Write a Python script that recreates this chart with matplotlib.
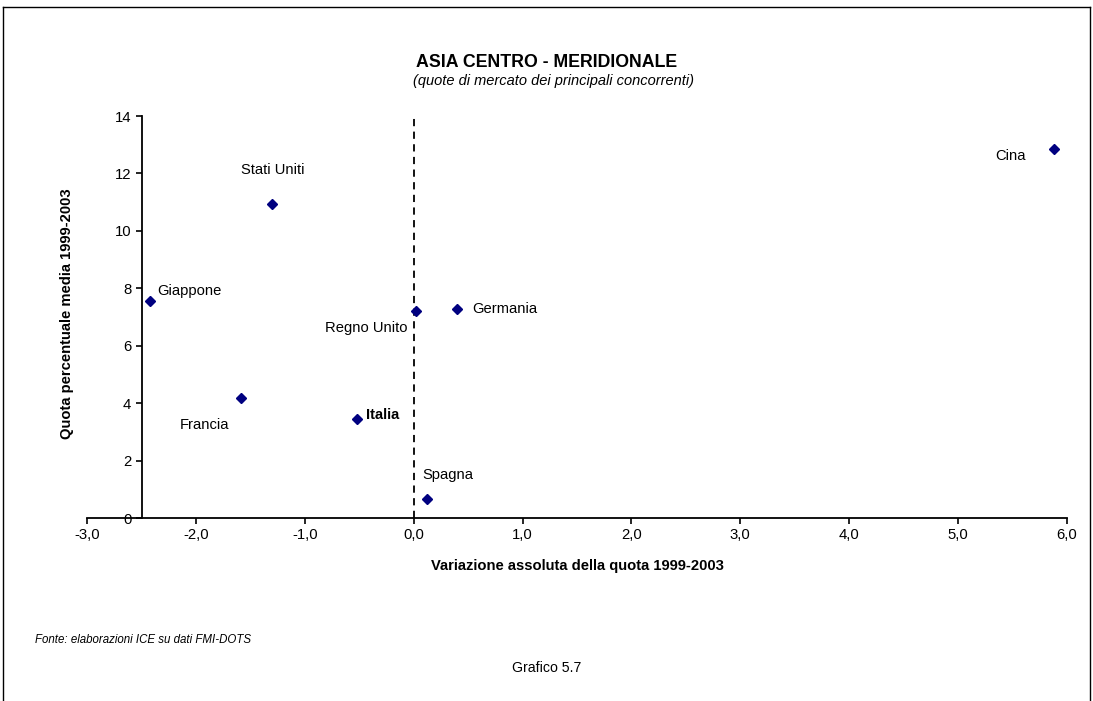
import numpy as np
import matplotlib.pyplot as plt
from matplotlib.lines import Line2D

plt.rcParams['font.family'] = ['Liberation Sans', 'DejaVu Sans']

# dati: variazione quota (x) e quota media (y)
paesi = ['Cina', 'Stati Uniti', 'Giappone', 'Francia', 'Regno Unito',
         'Germania', 'Italia', 'Spagna']
variazione = [5.88, -1.30, -2.42, -1.59, 0.02, 0.40, -0.52, 0.12]
quota = [12.85, 10.95, 7.57, 4.17, 7.22, 7.29, 3.45, 0.67]

# offset delle etichette in pixel (dx, dy, allineamento)
offs = {
    'Cina': (-43, -7, 'center'),
    'Stati Uniti': (0, 34, 'center'),
    'Giappone': (7, 10, 'left'),
    'Francia': (-36, -27, 'center'),
    'Regno Unito': (-50, -17, 'center'),
    'Germania': (15, 0, 'left'),
    'Italia': (9, 4, 'left'),
    'Spagna': (-4, 24, 'left'),
}

fig = plt.figure(figsize=(10.93, 7.01), dpi=100)
ax = fig.add_axes([0.0799, 0.261, 0.896, 0.5735])

ax.plot(variazione, quota, 'D', color='#000080', markersize=5.3, zorder=3)
ax.plot([0, 0], [0, 14], '--', color='black', lw=1.3, dashes=(4, 3))

for p, x, y in zip(paesi, variazione, quota):
    dx, dy, ha = offs[p]
    ax.annotate(p, (x, y), xytext=(dx, dy), textcoords='offset pixels',
                ha=ha, va='center', fontsize=10.6,
                fontweight='bold' if p == 'Italia' else 'normal')

ax.set_xlim(-3, 6)
ax.set_ylim(0, 14)
ax.set_xticks(np.arange(-3, 7, 1))
ax.set_xticklabels([('%.1f' % v).replace('.', ',') for v in np.arange(-3, 7, 1)])
ax.set_yticks(np.arange(0, 15, 2))
for s in ['top', 'right']:
    ax.spines[s].set_visible(False)
ax.spines['left'].set_position(('data', -2.5))
ax.spines['left'].set_linewidth(1.3)
ax.spines['bottom'].set_linewidth(1.3)
ax.tick_params(labelsize=10.7, length=4, width=1.2)
ax.patch.set_alpha(0)

ax.set_xlabel('Variazione assoluta della quota 1999-2003', fontsize=10.6,
              fontweight='bold', labelpad=12)
ax.set_ylabel('Quota percentuale media 1999-2003', fontsize=10.6,
              fontweight='bold')
ax.yaxis.set_label_coords(-0.014, 0.508)

fig.text(0.5, 0.911, 'ASIA CENTRO - MERIDIONALE', ha='center', va='center',
         fontsize=12.8, fontweight='bold')
fig.text(0.506, 0.884, '(quote di mercato dei principali concorrenti)',
         ha='center', va='center', fontsize=10.5, style='italic')
fig.text(0.032, 0.087, 'Fonte: elaborazioni ICE su dati FMI-DOTS',
         ha='left', va='center', fontsize=8.3, style='italic')
fig.text(0.5, 0.047, 'Grafico 5.7', ha='center', va='center', fontsize=10.2)

# cornice
for xs, ys in [([0.003, 0.003], [0, 0.99]), ([0.003, 0.997], [0.99, 0.99]),
               ([0.997, 0.997], [0, 0.99])]:
    fig.add_artist(Line2D(xs, ys, color='black', lw=1))

fig.savefig('out.png', dpi=100)
